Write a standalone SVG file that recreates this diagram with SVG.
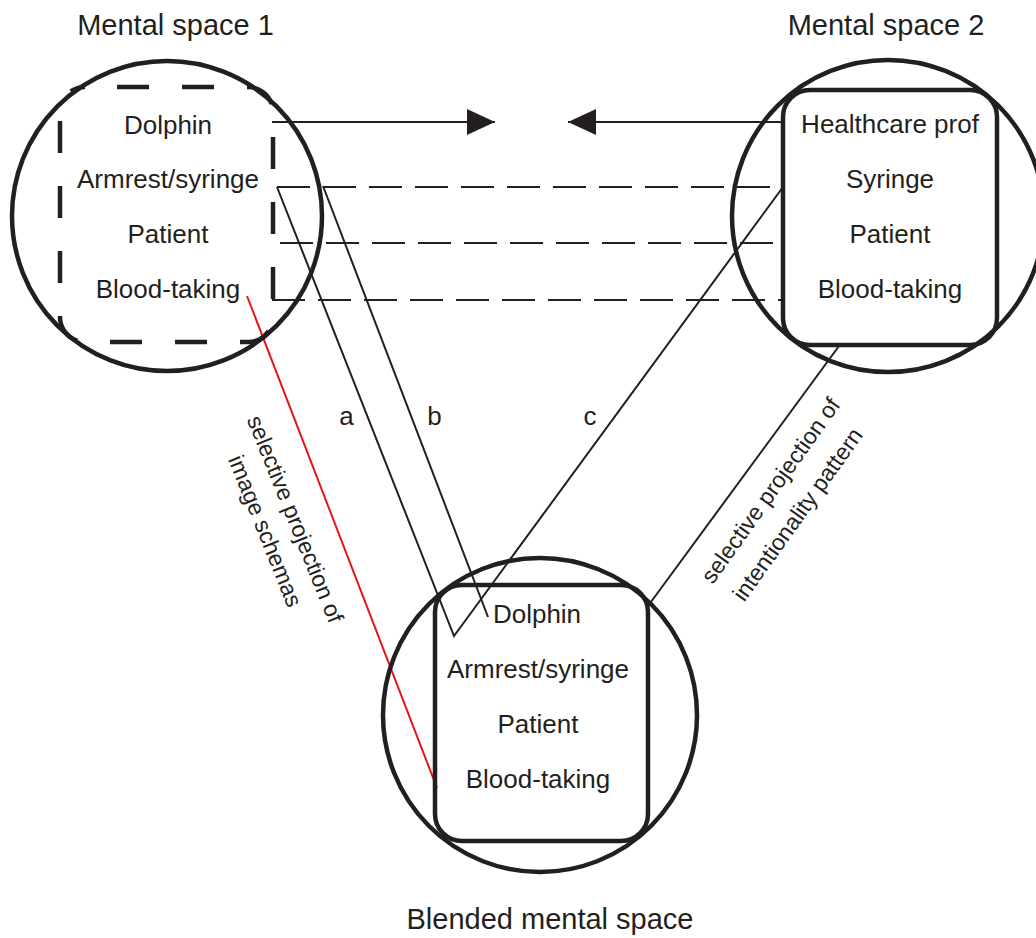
<svg xmlns="http://www.w3.org/2000/svg" width="1036" height="938" viewBox="0 0 1036 938">
<style>
.t{font-family:"Liberation Sans",Arial,sans-serif;fill:#231f20;text-anchor:middle}
.lbl{font-size:26px}
.ttl{font-size:29px}
.rot{font-size:23px}
.space{fill:none;stroke:#231f20;stroke-width:4.5}
.thin{fill:none;stroke:#231f20;stroke-width:2}
.dash{fill:none;stroke:#231f20;stroke-width:2;stroke-dasharray:33 13}
</style>
<defs>
<marker id="ah" viewBox="0 0 28 26" refX="28" refY="13" markerWidth="28" markerHeight="26" markerUnits="userSpaceOnUse" orient="auto">
<path d="M0,0 L28,13 L0,26 Z" fill="#231f20"/>
</marker>
</defs>
<rect width="1036" height="938" fill="#fff"/>

<g id="connectors">
<line class="thin" x1="272" y1="122" x2="495" y2="122" marker-end="url(#ah)"/>
<line class="thin" x1="783" y1="122" x2="568" y2="122" marker-end="url(#ah)"/>
<line class="dash" x1="277" y1="187" x2="783" y2="187"/>
<line class="dash" x1="280" y1="243" x2="783" y2="243"/>
<line class="dash" x1="272" y1="300" x2="783" y2="300"/>
<polyline class="thin" points="277,187 454,636 783,187"/>
<line class="thin" x1="323" y1="186" x2="488" y2="617"/>
<line class="thin" x1="839" y1="346" x2="648" y2="606"/>
<line x1="247" y1="296" x2="437" y2="788" stroke="#e3161e" stroke-width="2"/>
<text class="t lbl" x="346.5" y="425">a</text>
<text class="t lbl" x="434.5" y="425">b</text>
<text class="t lbl" x="590" y="425">c</text>
<text class="t rot" transform="translate(288,522) rotate(68)">selective projection of</text>
<text class="t rot" transform="translate(258,534) rotate(68)">image schemas</text>
<text class="t rot" transform="translate(777,495) rotate(-54.5)">selective projection of</text>
<text class="t rot" transform="translate(804,519) rotate(-54.5)">intentionality pattern</text>
</g>

<g id="space1">
<circle class="space" cx="167" cy="216" r="155"/>
<rect class="space" x="60" y="87" width="213" height="255" rx="25" style="stroke-dasharray:32 33;stroke-dashoffset:33"/>
<text class="t ttl" x="175.5" y="35">Mental space 1</text>
<text class="t lbl" x="168" y="134">Dolphin</text>
<text class="t lbl" x="168" y="188">Armrest/syringe</text>
<text class="t lbl" x="168" y="243">Patient</text>
<text class="t lbl" x="168" y="298">Blood-taking</text>
</g>

<g id="space2">
<circle class="space" cx="888" cy="216" r="156"/>
<rect class="space" x="783" y="90" width="214" height="255" rx="27"/>
<text class="t ttl" x="886" y="35">Mental space 2</text>
<text class="t lbl" x="890" y="133">Healthcare prof</text>
<text class="t lbl" x="890" y="188">Syringe</text>
<text class="t lbl" x="890" y="243">Patient</text>
<text class="t lbl" x="890" y="298">Blood-taking</text>
</g>

<g id="blend">
<circle class="space" cx="540" cy="715" r="157"/>
<rect class="space" x="435" y="585" width="213" height="256" rx="27"/>
<text class="t ttl" x="550" y="929">Blended mental space</text>
<text class="t lbl" x="537" y="623">Dolphin</text>
<text class="t lbl" x="538" y="678">Armrest/syringe</text>
<text class="t lbl" x="538" y="733">Patient</text>
<text class="t lbl" x="538" y="788">Blood-taking</text>
</g>
</svg>
